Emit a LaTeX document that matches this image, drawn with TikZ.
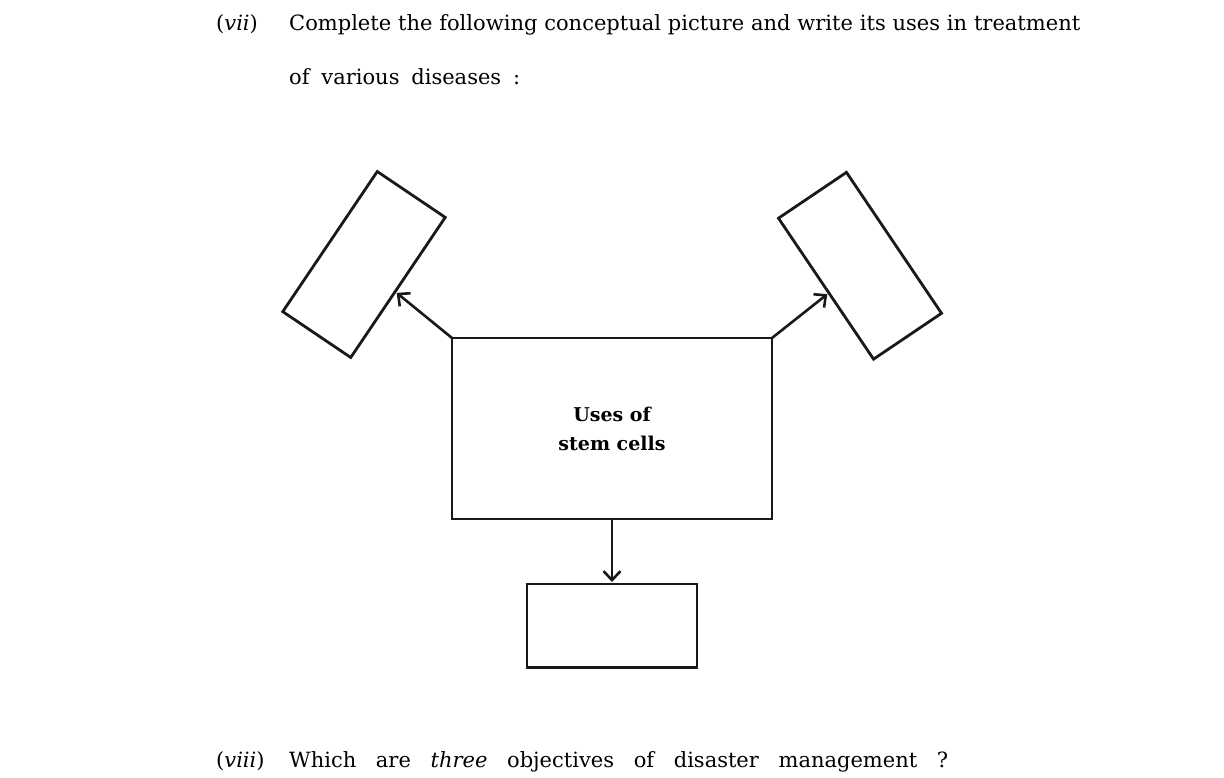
\documentclass[tikz,border=0pt]{standalone}
\usepackage{fontspec}
\setmainfont{DejaVu Serif}
\usetikzlibrary{arrows.meta,calc}
\begin{document}
\begin{tikzpicture}[x=1pt,y=-1pt,
  font=\fontsize{21}{24}\selectfont,
  blank/.style={draw=black!90, line width=2.8pt, inner sep=0pt, outer sep=0pt},
  arr/.style={draw=black!90, line width=2.6pt, -{Straight Barb[length=9pt,width=17pt]}, shorten >=2pt},
  txt/.style={anchor=base west, inner sep=0pt}]
\useasboundingbox (0,0) rectangle (1224,777);
\node[blank, minimum width=82pt, minimum height=169pt, rotate=-34] (L) at (364,264.5) {};
\node[blank, minimum width=82pt, minimum height=170pt, rotate=34] (R) at (860,265.75) {};
\node[blank, minimum width=320pt, minimum height=181pt, align=center,
  font=\bfseries\fontsize{19}{29}\selectfont] (C) at (612,428.5) {Uses of\\stem cells};
\node[blank, minimum width=170pt, minimum height=83.5pt] (B) at (612,625.75) {};
\draw[arr] (C.north west) -- ($(L.north east)!0.53!(L.south east)$);
\draw[arr] (C.north east) -- ($(R.north west)!0.53!(R.south west)$);
\draw[arr] (C.south) -- (B.north);
\node[txt] (n1) at (216,30) {(\textit{vii})};
\node[txt] (t1) at (289,30) {\makebox[791pt][s]{Complete the following conceptual picture and write its uses in treatment}};
\node[txt] (t2) at (289,84) {\makebox[231pt][s]{of various diseases :}};
\node[txt] (n3) at (216,767) {(\textit{viii})};
\node[txt] (t3) at (289,767) {\makebox[659pt][s]{Which are \textit{three} objectives of disaster management ?}};
\end{tikzpicture}
\end{document}
